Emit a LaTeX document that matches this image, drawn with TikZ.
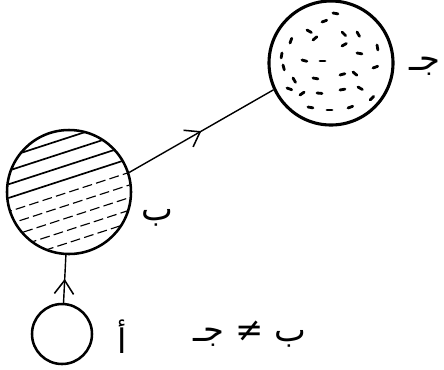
\documentclass[tikz,border=0pt]{standalone}
\usepackage{fontspec}
\newfontfamily\arabicfont[Script=Arabic]{DejaVu Sans}
\TeXXeTstate=1
\usetikzlibrary{arrows.meta,decorations.markings}
\begin{document}
\begin{tikzpicture}[x=0.025cm,y=-0.025cm,
        body/.style={circle, draw, line width=1.8pt, inner sep=0pt},
        lbl/.style={font=\arabicfont\fontsize{24}{26}\selectfont, inner sep=0pt},
        midarrow/.style={line width=1pt, postaction={decorate}, decoration={markings,
                mark=at position 0.5 with {\arrow{Straight Barb[length=3.4mm,width=4.8mm,line width=1.1pt]}}}}]
        \useasboundingbox (0,0) rectangle (444,369);

        \node[body, minimum size=60*0.025cm]  (a) at (62,334)  {};
        \node[body, minimum size=124*0.025cm] (b) at (69,192)  {};
        \node[body, minimum size=124*0.025cm, line width=2.2pt] (c) at (331,63) {};

        % hatching of b
        \begin{scope}
        \clip (69,192) circle (61);
        \begin{scope}[shift={(69,192)}, rotate=18]
        \foreach \k in {-52,-39,-26,-13} \draw[line width=1.2pt] (-70,\k) -- (70,\k);
        \foreach \k in {0,12,24,36,48} \draw[line width=0.8pt, dash pattern=on 7pt off 3pt] (-70,\k) -- (70,\k);
        \end{scope}
        \end{scope}

        % dots of c
        \foreach \p/\q/\r in {333/13/10, 322/22/-20, 307/30/30, 313/40/-40, 342/32/45, 357/32/60,
                377/45/80, 290/43/-70, 282/53/100, 302/60/15, 320/61/0, 342/46/-30, 357/53/10,
                373/68/-20, 293/78/60, 313/78/10, 340/75/-15, 353/72/40, 287/88/20, 300/95/-35,
                317/93/5, 340/90/-10, 358/87/30, 370/100/-45, 308/107/10, 327/110/0, 348/108/-20, 283/65/75}
        \draw[line width=2pt, line cap=round] (\p,\q) -- ++(\r:5);

        \draw[midarrow] (a) -- (b);
        \draw[midarrow] (b.18) -- (c.205);

        \node[lbl] (la) at (122,337) {\beginR أ\endR};
        \node[lbl] (lb) at (157,218) {\beginR ب\endR};
        \node[lbl, anchor=east] (lc) at (441,66) {\beginR جـ\endR};
        \node[lbl] (neq) at (250,334) {\beginR ب ≠ جـ\endR};
        \end{tikzpicture}
\end{document}
